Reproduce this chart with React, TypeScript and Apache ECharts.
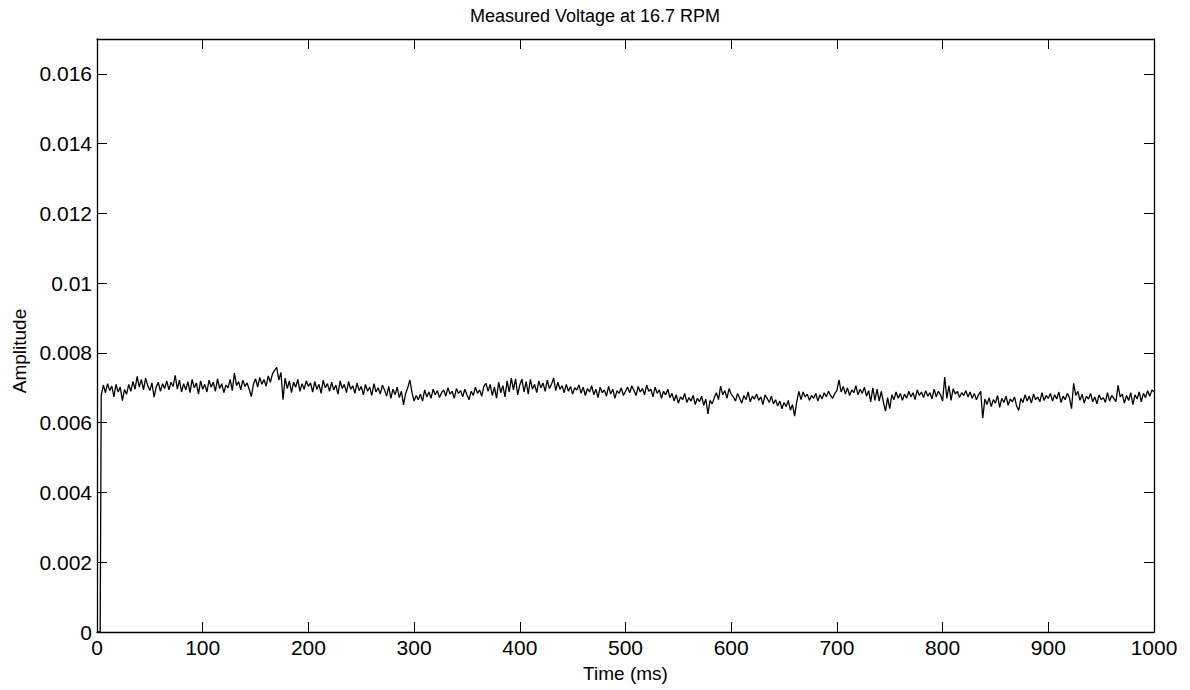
import React, { useEffect, useRef } from "react";
import * as echarts from "echarts";

const chartTitle = "Measured Voltage at 16.7 RPM";
const xAxisName = "Time (ms)";
const yAxisName = "Amplitude";
const xTickValues = [0, 100, 200, 300, 400, 500, 600, 700, 800, 900, 1000];
const yTickValues = [0, 0.002, 0.004, 0.006, 0.008, 0.01, 0.012, 0.014, 0.016];
const yAxisMax = 0.017;

// lead-in before the signal appears
const leadTimesMs = [0, 3];
const leadAmplitudes = [0, 0];

// sampled signal: first sample at 4 ms, one sample every 2 ms
const sampleStartMs = 4;
const sampleStepMs = 2;
const amplitudes = [
  0.00678, 0.00708, 0.00686, 0.00712, 0.00692, 0.00705, 0.00674, 0.0071, 0.00688, 0.00702,
  0.00663, 0.00695, 0.00682, 0.0071, 0.0069, 0.00718, 0.00696, 0.00733, 0.00702, 0.00724,
  0.00694, 0.00728, 0.00706, 0.00692, 0.00714, 0.00673, 0.00702, 0.00716, 0.0069, 0.00712,
  0.00698, 0.0072, 0.00694, 0.00716, 0.00704, 0.00736, 0.00696, 0.00722, 0.00688, 0.00712,
  0.00694, 0.00718, 0.00686, 0.00724, 0.007, 0.00714, 0.00682, 0.0072, 0.00696, 0.0071,
  0.00688, 0.00722, 0.00702, 0.00716, 0.0069, 0.00726, 0.00698, 0.00712, 0.00686, 0.00708,
  0.007, 0.00724, 0.00692, 0.00742, 0.00706, 0.00718, 0.00694, 0.00722, 0.00704, 0.00714,
  0.00696, 0.00675, 0.0071, 0.00726, 0.00702, 0.0073, 0.0071, 0.00724, 0.00704, 0.00734,
  0.00716, 0.0074, 0.0075, 0.00759, 0.00722, 0.00744, 0.00666, 0.00728, 0.00698, 0.0072,
  0.00686, 0.00716, 0.00702, 0.00724, 0.0069, 0.00712, 0.00696, 0.0072, 0.00704, 0.00714,
  0.00688, 0.00718, 0.00696, 0.0071, 0.00684, 0.00722, 0.007, 0.00712, 0.0069, 0.00716,
  0.00694, 0.00708, 0.00682, 0.0072, 0.00698, 0.0071, 0.00686, 0.00718, 0.00696, 0.00706,
  0.00684, 0.00714, 0.00692, 0.00704, 0.0068, 0.0071, 0.0069, 0.00702, 0.00678, 0.00712,
  0.00688, 0.007, 0.00682, 0.00708, 0.00694, 0.00676, 0.00704, 0.0067, 0.00696, 0.0068,
  0.00702, 0.00672, 0.0069, 0.00651, 0.00684, 0.007, 0.00723, 0.00686, 0.00662, 0.00678,
  0.00666, 0.00682, 0.00662, 0.00694, 0.00674, 0.00688, 0.0067, 0.00696, 0.0068, 0.00692,
  0.00672, 0.00686, 0.00694, 0.00676, 0.007, 0.00682, 0.0069, 0.0067, 0.00698, 0.00684,
  0.00692, 0.00674, 0.00696, 0.0068, 0.00666, 0.0069, 0.00678, 0.00702, 0.00684, 0.00694,
  0.00676, 0.00704, 0.00713, 0.0069, 0.0071, 0.00678, 0.00702, 0.0067, 0.00716, 0.00686,
  0.00706, 0.00674, 0.0072, 0.00688, 0.00728, 0.00694, 0.00726, 0.0068, 0.00708, 0.00725,
  0.00688, 0.00718, 0.00682, 0.00724, 0.00696, 0.0071, 0.00686, 0.0072, 0.007, 0.00714,
  0.0069, 0.00722, 0.00698, 0.0071, 0.00728, 0.00692, 0.00716, 0.00696, 0.00706, 0.00686,
  0.0071, 0.0069, 0.00704, 0.00682, 0.007, 0.00694, 0.00708, 0.00684, 0.00702, 0.00678,
  0.00698, 0.00688, 0.00706, 0.0068, 0.00696, 0.00672, 0.00702, 0.00686, 0.00694, 0.00676,
  0.00704, 0.00682, 0.00696, 0.0067, 0.00692, 0.00684, 0.007, 0.00678, 0.0069, 0.00702,
  0.00686, 0.00706, 0.00692, 0.00678, 0.00704, 0.00688, 0.00698, 0.0068, 0.00708, 0.0069,
  0.00696, 0.00674, 0.00702, 0.00684, 0.00694, 0.0067, 0.0069, 0.0068, 0.00696, 0.00672,
  0.00684, 0.00662, 0.0068, 0.00656, 0.00674, 0.00666, 0.00684, 0.00658, 0.00672, 0.00662,
  0.00678, 0.00652, 0.0067, 0.0066, 0.00676, 0.0065, 0.00668, 0.00625, 0.00664, 0.00654,
  0.00672, 0.00686, 0.00666, 0.00705, 0.0068, 0.00692, 0.0067, 0.00698, 0.00682, 0.00674,
  0.00662, 0.00684, 0.0067, 0.00656, 0.00678, 0.00666, 0.00688, 0.0066, 0.00676, 0.00668,
  0.00682, 0.00664, 0.00674, 0.00652, 0.0068, 0.0067, 0.00658, 0.00676, 0.00654, 0.00666,
  0.00648, 0.00662, 0.0064, 0.00658, 0.00646, 0.00664, 0.00636, 0.00652, 0.00619, 0.0066,
  0.0069, 0.00666, 0.00688, 0.00674, 0.00682, 0.00664, 0.00678, 0.0067, 0.00684, 0.00662,
  0.0068, 0.00668, 0.00686, 0.00674, 0.0069, 0.00678, 0.0067, 0.00684, 0.00692, 0.00723,
  0.00688, 0.00704, 0.00682, 0.007, 0.00678, 0.00694, 0.00686, 0.00706, 0.0068, 0.00696,
  0.00684, 0.00702, 0.00676, 0.00692, 0.0066, 0.007, 0.00664, 0.00696, 0.00662, 0.0069,
  0.00658, 0.00633, 0.00672, 0.0064, 0.0068, 0.00666, 0.00688, 0.0067, 0.00684, 0.00664,
  0.00682, 0.0067, 0.0069, 0.00674, 0.00686, 0.00666, 0.00694, 0.00678, 0.00688, 0.00672,
  0.00692, 0.00676, 0.00686, 0.00668, 0.00696, 0.00674, 0.0069, 0.0068, 0.00662, 0.00731,
  0.0067, 0.00706, 0.00664, 0.00698, 0.00682, 0.0069, 0.00672, 0.00686, 0.00678, 0.00692,
  0.00674, 0.00688, 0.0067, 0.00684, 0.00666, 0.0068, 0.0069, 0.00613, 0.00668, 0.00652,
  0.00672, 0.00646, 0.00666, 0.00656, 0.00678, 0.00644, 0.0067, 0.00658, 0.00676, 0.0065,
  0.00668, 0.0066, 0.00674, 0.00648, 0.00635, 0.0067, 0.00658, 0.0068, 0.00662, 0.00676,
  0.00656, 0.00682, 0.00666, 0.00674, 0.0066, 0.00686, 0.00664, 0.00678, 0.0067, 0.00684,
  0.00662, 0.0068, 0.00668, 0.00688, 0.00658, 0.00676, 0.00666, 0.00684, 0.00672, 0.0064,
  0.00713, 0.00678, 0.0069, 0.00664, 0.00682, 0.00656, 0.00676, 0.00668, 0.00684, 0.0066,
  0.00674, 0.00654, 0.0068, 0.00666, 0.00672, 0.00658, 0.00686, 0.00662, 0.00678, 0.0067,
  0.0066, 0.00707, 0.00674, 0.00682, 0.00656, 0.00678, 0.00664, 0.00686, 0.00652, 0.0068,
  0.00668, 0.00688, 0.0066, 0.00684, 0.00672, 0.00692, 0.00676, 0.00694, 0.00688,
];

const FONT = "'Liberation Sans', Arial, Helvetica, sans-serif";

export default function App() {
  const ref = useRef<HTMLDivElement>(null);

  useEffect(() => {
    if (!ref.current) return;
    const chart = echarts.init(ref.current, undefined, { renderer: "svg" });

    const points: [number, number][] = [];
    leadTimesMs.forEach((t, i) => points.push([t, leadAmplitudes[i]]));
    amplitudes.forEach((v, i) => points.push([sampleStartMs + i * sampleStepMs, v]));

    const tickStyle = { show: true, inside: true, length: 10, lineStyle: { color: "#000", width: 1 } };
    const lineStyle = { show: true, onZero: false, lineStyle: { color: "#000", width: 1.3 } };
    const xMin = xTickValues[0];
    const xMax = xTickValues[xTickValues.length - 1];
    const xInterval = xTickValues[1] - xTickValues[0];
    const yInterval = yTickValues[1] - yTickValues[0];

    chart.setOption({
      animation: false,
      backgroundColor: "#fff",
      title: {
        text: chartTitle,
        left: "center",
        top: 2,
        textStyle: { fontFamily: FONT, fontSize: 18, fontWeight: "normal", color: "#000" },
      },
      graphic: [
        {
          type: "text",
          x: 19,
          y: 351,
          rotation: Math.PI / 2,
          style: {
            text: yAxisName,
            fontFamily: FONT,
            fontSize: 19,
            fill: "#000",
            textAlign: "center",
            textVerticalAlign: "middle",
          },
        },
      ],
      grid: { left: 97, right: 36, top: 39, bottom: 58, containLabel: false },
      xAxis: [
        {
          type: "value",
          position: "bottom",
          min: xMin,
          max: xMax,
          interval: xInterval,
          name: xAxisName,
          nameLocation: "middle",
          nameGap: 32,
          nameTextStyle: { fontFamily: FONT, fontSize: 19, color: "#000" },
          axisLine: lineStyle,
          axisTick: tickStyle,
          splitLine: { show: false },
          axisLabel: {
            fontFamily: FONT,
            fontSize: 21,
            color: "#000",
            margin: 5,
            formatter: (v: number) => String(v),
          },
        },
        {
          type: "value",
          position: "top",
          min: xMin,
          max: xMax,
          interval: xInterval,
          axisLine: lineStyle,
          axisTick: tickStyle,
          splitLine: { show: false },
          axisLabel: { show: false },
        },
      ],
      yAxis: [
        {
          type: "value",
          position: "left",
          min: 0,
          max: yAxisMax,
          interval: yInterval,
          axisLine: lineStyle,
          axisTick: tickStyle,
          splitLine: { show: false },
          axisLabel: {
            fontFamily: FONT,
            fontSize: 21,
            color: "#000",
            margin: 5,
            showMaxLabel: false,
            formatter: (v: number) => (v > yTickValues[yTickValues.length - 1] + 1e-9 ? "" : String(+v.toFixed(3))),
          },
        },
        {
          type: "value",
          position: "right",
          min: 0,
          max: yAxisMax,
          interval: yInterval,
          axisLine: lineStyle,
          axisTick: tickStyle,
          splitLine: { show: false },
          axisLabel: { show: false },
        },
      ],
      series: [
        {
          type: "line",
          data: points,
          xAxisIndex: 0,
          yAxisIndex: 0,
          showSymbol: false,
          symbol: "none",
          lineStyle: { color: "#000", width: 1.3 },
        },
      ],
    });

    return () => chart.dispose();
  }, []);

  return (
    <div
      ref={ref}
      style={{ position: "absolute", left: 0, top: 0, width: 1190, height: 690 }}
    />
  );
}
